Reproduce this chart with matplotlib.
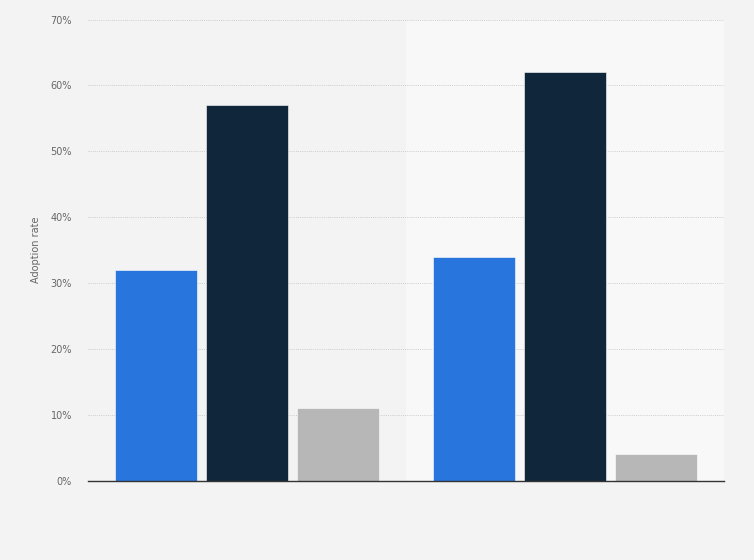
import matplotlib
matplotlib.use("Agg")
import matplotlib.pyplot as plt
import numpy as np

categories = ["Group 1", "Group 2"]
series_names = ["Series A", "Series B", "Series C"]
series_values = {
    "Series A": [32, 34],
    "Series B": [57, 62],
    "Series C": [11, 4],
}
colors = ["#2876dd", "#10263b", "#b7b7b7"]
yticks = [0, 10, 20, 30, 40, 50, 60, 70]
ytick_labels = [f"{t}%" for t in yticks]

fig = plt.figure(figsize=(7.54, 5.6), dpi=100)
fig.patch.set_facecolor("#f3f3f3")
ax = fig.add_axes([88/754, 1-480.7/560, (724-88)/754, (480.7-19.5)/560])
ax.set_facecolor("#f3f3f3")

x = np.arange(len(categories))
spacing = 0.286
width = 0.26
ax.axvspan(0.5, 1.5, color="#f8f8f8", zorder=0, lw=0)
for i, name in enumerate(series_names):
    ax.bar(x + (i - 1) * spacing, series_values[name], width=width,
           color=colors[i], edgecolor="#ffffff", linewidth=0.4, zorder=3)

ax.set_xlim(-0.5, 1.5)
ax.set_ylim(0, 70)
ax.set_yticks(yticks)
ax.set_yticklabels(ytick_labels)
ax.set_xticks([])
ax.grid(axis="y", color="#cccccc", linestyle=(0, (1, 1.2)), linewidth=0.7, zorder=1)
for s in ["top", "right", "left"]:
    ax.spines[s].set_visible(False)
ax.spines["bottom"].set_color("#333333")
ax.spines["bottom"].set_linewidth(1.0)
ax.spines["bottom"].set_zorder(4)
ax.tick_params(axis="y", length=0, pad=11.5, labelsize=7, labelcolor="#666666")
ax.set_ylabel("Adoption rate", fontsize=7, color="#666666", labelpad=7)

fig.savefig("out.png", dpi=100, facecolor=fig.get_facecolor())
